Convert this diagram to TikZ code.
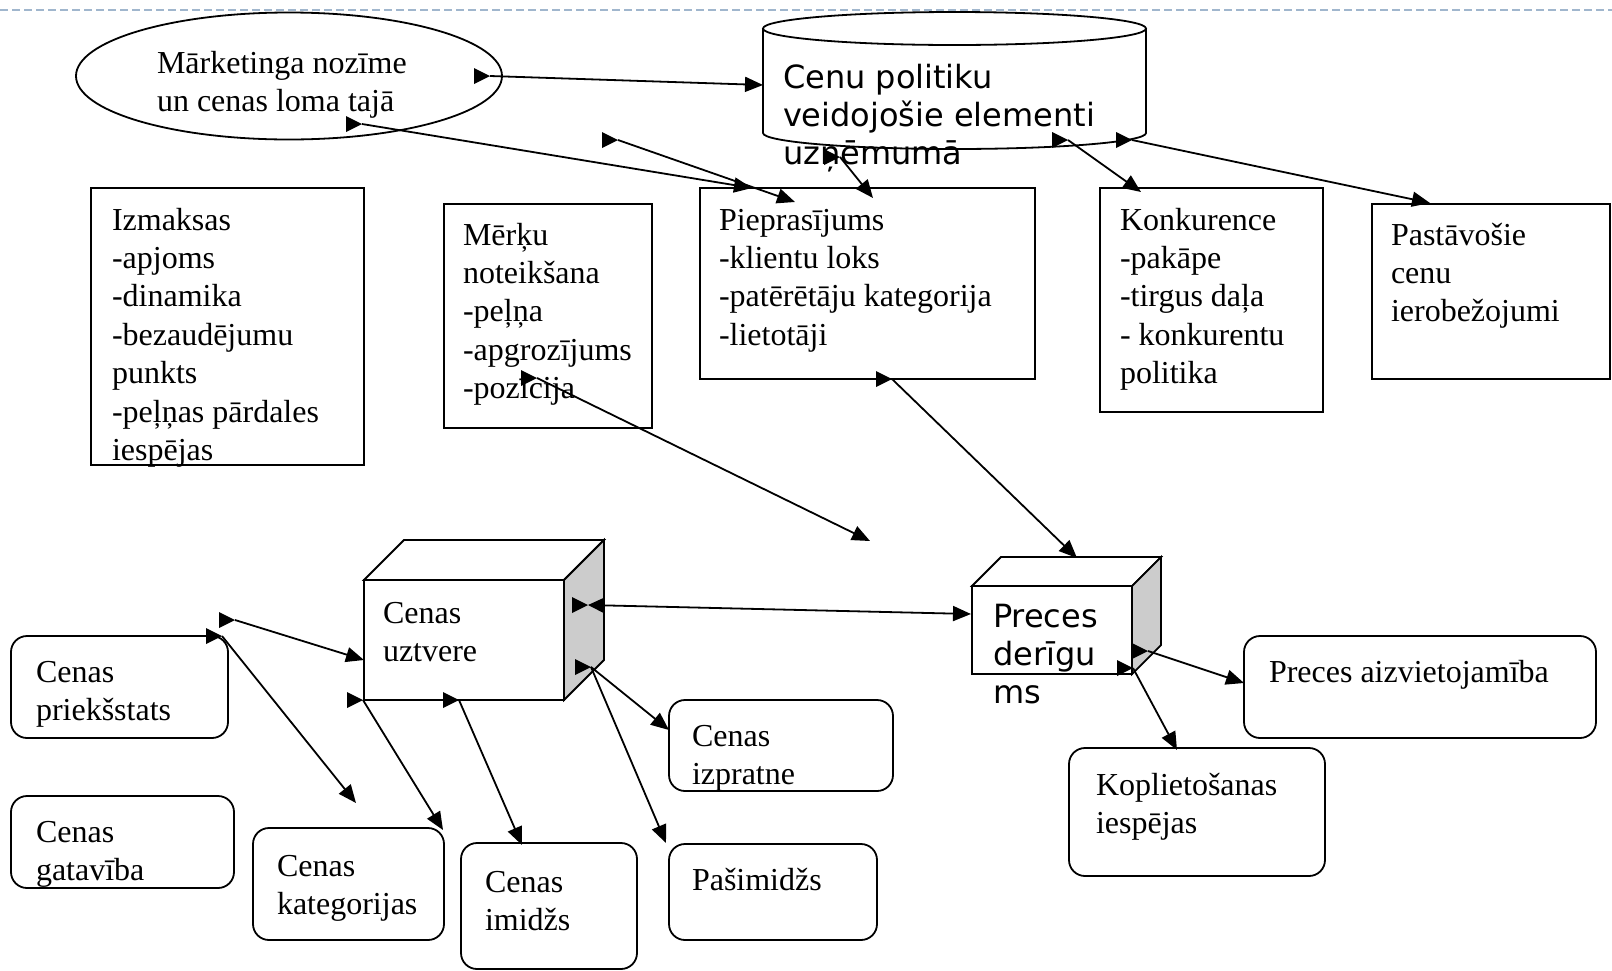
\documentclass[tikz,border=0pt]{standalone}
\usepackage{fontspec}
\setmainfont{Liberation Serif}
\newfontfamily\dvs{DejaVu Sans}
\usetikzlibrary{arrows.meta,shapes.geometric}
\definecolor{dashblue}{HTML}{A0B6CD}
\definecolor{facegray}{HTML}{CCCCCC}
\tikzset{
  bx/.style={draw, line width=1.8pt, inner sep=0pt, outer sep=0pt},
  rbx/.style={bx, rounded corners=16pt},
  tx/.style={anchor=north west, inner sep=0pt, outer sep=0pt, align=left, yshift=26.88pt, font=\fontsize{32}{38.4}\selectfont},
  stx/.style={tx, font=\dvs\fontsize{32}{38.4}\selectfont},
  conn/.style={line width=1.8pt, -{Triangle[length=18pt,width=15pt]}},
  mk/.pic={\fill (-16,-8) -- (0,0) -- (-16,8) -- cycle;}
}
\begin{document}
\begin{tikzpicture}[x=1pt,y=-1pt]
\useasboundingbox (0,0) rectangle (1612,970);
% top dashed rule
\draw[dashblue, line width=2pt, dash pattern=on 8pt off 4pt] (0,10) -- (1612,10);

% ellipse
\node[bx, ellipse, minimum width=426pt, minimum height=127pt] (mark) at (289,76) {};
% cylinder
\draw[line width=1.8pt] (763,28.5) -- (763,133) arc[start angle=180, end angle=360, x radius=191.5pt, y radius=16pt] -- (1146,28.5);
\draw[line width=1.8pt] (954.5,28.5) ellipse [x radius=191.5pt, y radius=16.5pt];
\coordinate (cyl) at (954.5,80);

% rectangles
\node[bx, minimum width=273pt, minimum height=277pt] (izm) at (227.5,326.5) {};
\node[bx, minimum width=208pt, minimum height=224pt] (mer) at (548,316) {};
\node[bx, minimum width=335pt, minimum height=191pt] (pie) at (867.5,283.5) {};
\node[bx, minimum width=223pt, minimum height=224pt] (kon) at (1211.5,300) {};
\node[bx, minimum width=238pt, minimum height=175pt] (pst) at (1491,291.5) {};

% cubes
\node[bx, minimum width=200pt, minimum height=120pt] (uzt) at (464,640) {};
\draw[line width=1.8pt, fill=white] (uzt.north west) -- ++(40,-40) -- ++(200,0) -- (uzt.north east) -- cycle;
\draw[line width=1.8pt, fill=facegray] (uzt.north east) -- ++(40,-40) -- ++(0,120) -- (uzt.south east) -- cycle;
\node[bx, minimum width=160pt, minimum height=88pt] (pd) at (1052,630) {};
\draw[line width=1.8pt, fill=white] (pd.north west) -- ++(29,-29) -- ++(160,0) -- (pd.north east) -- cycle;
\draw[line width=1.8pt, fill=facegray] (pd.north east) -- ++(29,-29) -- ++(0,88) -- (pd.south east) -- cycle;

% rounded boxes
\node[rbx, minimum width=217pt, minimum height=102pt] (pri) at (119.5,687) {};
\node[rbx, minimum width=223pt, minimum height=92pt] (gat) at (122.5,842) {};
\node[rbx, minimum width=191pt, minimum height=112pt] (kat) at (348.5,884) {};
\node[rbx, minimum width=176pt, minimum height=126pt] (imi) at (549,906) {};
\node[rbx, minimum width=208pt, minimum height=96pt] (psi) at (773,892) {};
\node[rbx, minimum width=224pt, minimum height=91pt] (izp) at (781,745.5) {};
\node[rbx, minimum width=352pt, minimum height=102pt] (aiz) at (1420,687) {};
\node[rbx, minimum width=256pt, minimum height=128pt] (kop) at (1197,812) {};

% texts
\node[tx] (tmark) at (157,73) {\strut Mārketinga nozīme\\un cenas loma tajā};
\node[stx] (tcyl) at (783,88) {\strut Cenu politiku\\veidojošie elementi\\uzņēmumā};
\node[tx] (tizm) at (112,230) {\strut Izmaksas\\-apjoms\\-dinamika\\-bezaudējumu\\punkts\\-peļņas pārdales\\iespējas};
\node[tx] (tmer) at (463,245) {\strut Mērķu\\noteikšana\\-peļņa\\-apgrozījums\\-pozīcija};
\node[tx] (tpie) at (719,230) {\strut Pieprasījums\\-klientu loks\\-patērētāju kategorija\\-lietotāji};
\node[tx] (tkon) at (1120,230) {\strut Konkurence\\-pakāpe\\-tirgus daļa\\- konkurentu\\politika};
\node[tx] (tpst) at (1391,245) {\strut Pastāvošie\\cenu\\ierobežojumi};
\node[tx] (tuzt) at (383,623) {\strut Cenas\\uztvere};
\node[stx] (tpd) at (993,627) {\strut Preces\\derīgu\\ms};
\node[tx] (tpri) at (36,682) {\strut Cenas\\priekšstats};
\node[tx] (tgat) at (36,842) {\strut Cenas\\gatavība};
\node[tx] (tkat) at (277,876) {\strut Cenas\\kategorijas};
\node[tx] (timi) at (485,892) {\strut Cenas\\imidžs};
\node[tx] (tpsi) at (692,890) {\strut Pašimidžs};
\node[tx] (tizp) at (692,746) {\strut Cenas\\izpratne};
\node[tx] (taiz) at (1269,682) {\strut Preces aizvietojamība};
\node[tx] (tkop) at (1096,795) {\strut Koplietošanas\\iespējas};

% connector end points
\coordinate (s1) at (490,76);   \coordinate (e1) at (763,85);
\coordinate (s2) at (362,124);  \coordinate (e2) at (752,188);
\coordinate (s3) at (618,140);  \coordinate (e3) at (795,202);
\coordinate (s4) at (840,157);  \coordinate (e4) at (873,198);
\coordinate (s5) at (1068,140); \coordinate (e5) at (1141,192);
\coordinate (s6) at (1132,140); \coordinate (e6) at (1430,203);
\coordinate (s7) at (537,378);  \coordinate (e7) at (870,541);
\coordinate (s8) at (892,379);  \coordinate (e8) at (1077,558);
\coordinate (s9) at (588,605);  \coordinate (e9) at (971,614);
\coordinate (s10) at (591,667); \coordinate (e10) at (669,730);
\coordinate (e11) at (666,843);
\coordinate (s12) at (459,700); \coordinate (e12) at (522,845);
\coordinate (s13) at (363,700); \coordinate (e13) at (443,830);
\coordinate (s14) at (222,636); \coordinate (e14) at (356,803);
\coordinate (s15) at (235,620); \coordinate (e15) at (364,660);
\coordinate (s16) at (1148,651); \coordinate (e16) at (1244,683);
\coordinate (s17) at (1133,668); \coordinate (e17) at (1177,750);

% connectors
\draw[conn] (s1) -- (e1);   \pic at (s1) {mk};
\draw[conn] (s2) -- (e2);   \pic at (s2) {mk};
\draw[conn] (s3) -- (e3);   \pic at (s3) {mk};
\draw[conn] (s4) -- (e4);   \pic at (s4) {mk};
\draw[conn] (s5) -- (e5);   \pic at (s5) {mk};
\draw[conn] (s6) -- (e6);   \pic at (s6) {mk};
\draw[conn] (s7) -- (e7);   \pic at (s7) {mk};
\draw[conn] (s8) -- (e8);   \pic at (s8) {mk};
\draw[conn, {Triangle[length=16pt,width=15pt]}-{Triangle[length=18pt,width=15pt]}] (s9) -- (e9); \pic at (s9) {mk};
\draw[conn] (s10) -- (e10); \pic at (s10) {mk};
\draw[conn] (s10) -- (e11);
\draw[conn] (s12) -- (e12); \pic at (s12) {mk};
\draw[conn] (s13) -- (e13); \pic at (s13) {mk};
\draw[conn] (s14) -- (e14); \pic at (s14) {mk};
\draw[conn] (s15) -- (e15); \pic at (s15) {mk};
\draw[conn] (s16) -- (e16); \pic at (s16) {mk};
\draw[conn] (s17) -- (e17); \pic at (s17) {mk};
\end{tikzpicture}
\end{document}
